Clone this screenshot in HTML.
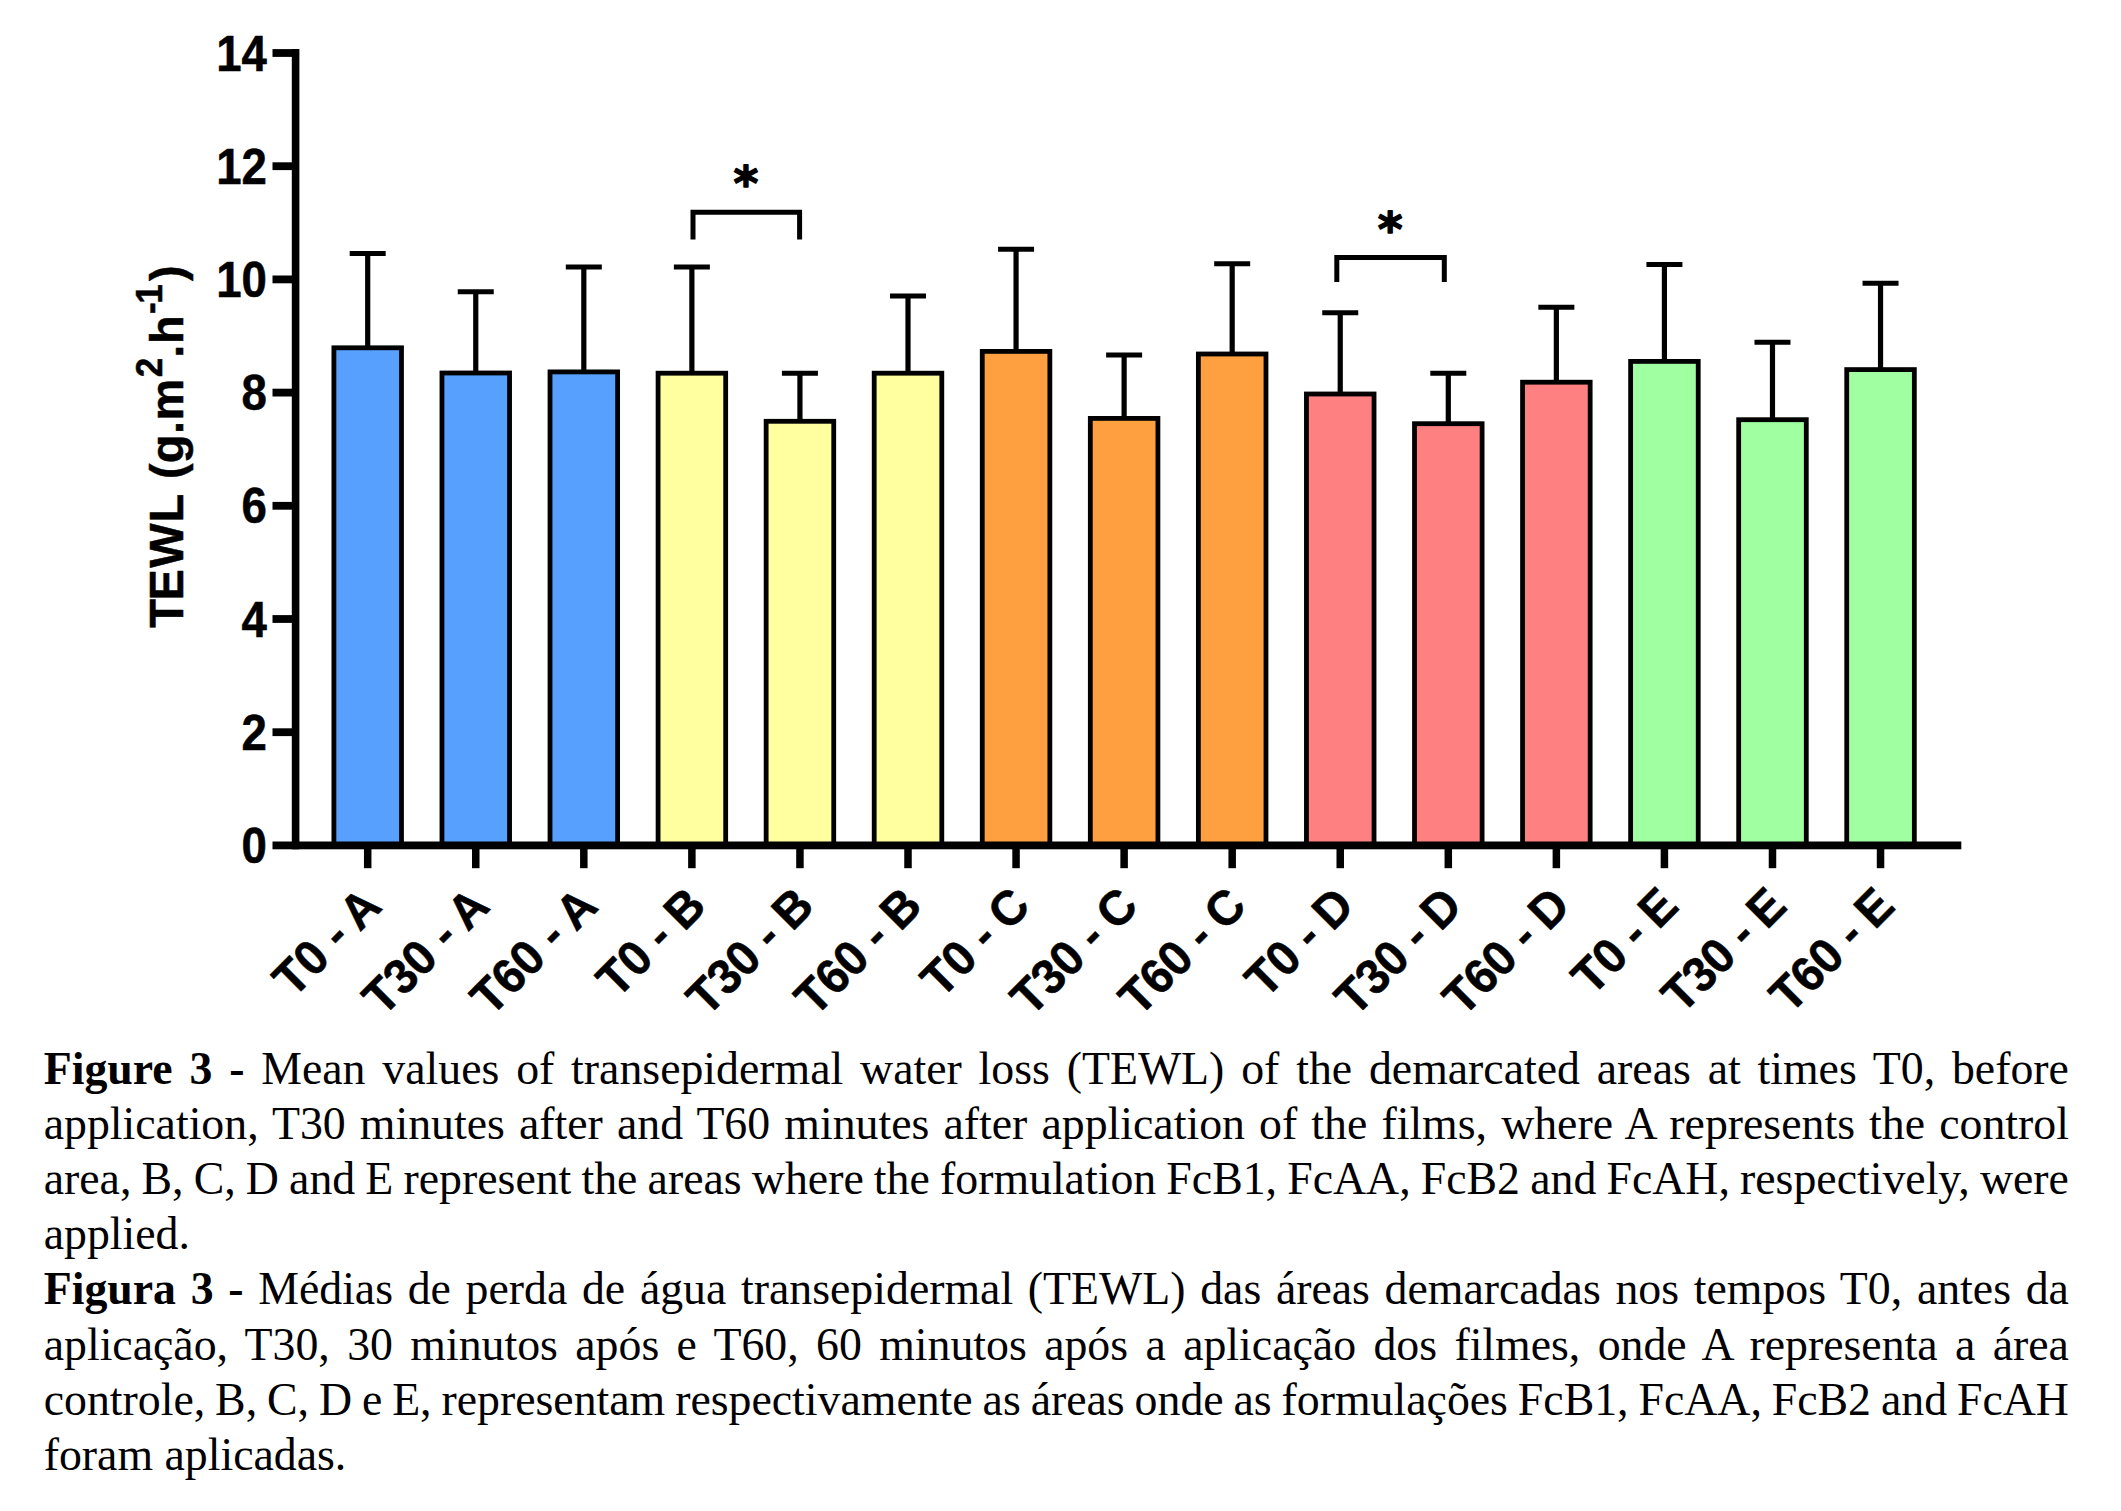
<!DOCTYPE html>
<html lang="en"><head><meta charset="utf-8"><title>Figure 3 - TEWL</title>
<style>
html,body{margin:0;padding:0;background:#fff;}
body{width:2121px;height:1511px;position:relative;overflow:hidden;}
.cap{position:absolute;left:43.7px;top:1040.8px;width:2030px;font-family:"Liberation Serif","Times New Roman",serif;font-size:45.8px;font-kerning:auto;color:#000;line-height:55.18px;}
.ln{height:55.18px;white-space:nowrap;}
svg text{stroke:#000;stroke-width:0.5px;stroke-linejoin:round;}
svg text.ast{stroke-width:1.4px;}
</style></head><body>
<svg width="2121" height="1040" viewBox="0 0 2121 1040" style="position:absolute;left:0;top:0">
<g font-family="'Liberation Sans', Arial, sans-serif" font-weight="bold" font-size="47" fill="#000">
<line x1="367.70" x2="367.70" y1="253.40" y2="347.80" stroke="#000" stroke-width="5.2"/>
<line x1="349.70" x2="385.70" y1="253.40" y2="253.40" stroke="#000" stroke-width="5"/>
<rect x="333.90" y="347.80" width="67.60" height="497.60" fill="#58a0fd" stroke="#000" stroke-width="4.8"/>
<line x1="475.76" x2="475.76" y1="291.70" y2="373.00" stroke="#000" stroke-width="5.2"/>
<line x1="457.76" x2="493.76" y1="291.70" y2="291.70" stroke="#000" stroke-width="5"/>
<rect x="441.96" y="373.00" width="67.60" height="472.40" fill="#58a0fd" stroke="#000" stroke-width="4.8"/>
<line x1="583.82" x2="583.82" y1="267.10" y2="371.90" stroke="#000" stroke-width="5.2"/>
<line x1="565.82" x2="601.82" y1="267.10" y2="267.10" stroke="#000" stroke-width="5"/>
<rect x="550.02" y="371.90" width="67.60" height="473.50" fill="#58a0fd" stroke="#000" stroke-width="4.8"/>
<line x1="691.88" x2="691.88" y1="267.00" y2="373.20" stroke="#000" stroke-width="5.2"/>
<line x1="673.88" x2="709.88" y1="267.00" y2="267.00" stroke="#000" stroke-width="5"/>
<rect x="658.08" y="373.20" width="67.60" height="472.20" fill="#ffffa0" stroke="#000" stroke-width="4.8"/>
<line x1="799.94" x2="799.94" y1="373.20" y2="421.30" stroke="#000" stroke-width="5.2"/>
<line x1="781.94" x2="817.94" y1="373.20" y2="373.20" stroke="#000" stroke-width="5"/>
<rect x="766.14" y="421.30" width="67.60" height="424.10" fill="#ffffa0" stroke="#000" stroke-width="4.8"/>
<line x1="908.00" x2="908.00" y1="295.90" y2="373.20" stroke="#000" stroke-width="5.2"/>
<line x1="890.00" x2="926.00" y1="295.90" y2="295.90" stroke="#000" stroke-width="5"/>
<rect x="874.20" y="373.20" width="67.60" height="472.20" fill="#ffffa0" stroke="#000" stroke-width="4.8"/>
<line x1="1016.06" x2="1016.06" y1="249.20" y2="351.40" stroke="#000" stroke-width="5.2"/>
<line x1="998.06" x2="1034.06" y1="249.20" y2="249.20" stroke="#000" stroke-width="5"/>
<rect x="982.26" y="351.40" width="67.60" height="494.00" fill="#ffa040" stroke="#000" stroke-width="4.8"/>
<line x1="1124.12" x2="1124.12" y1="355.00" y2="418.40" stroke="#000" stroke-width="5.2"/>
<line x1="1106.12" x2="1142.12" y1="355.00" y2="355.00" stroke="#000" stroke-width="5"/>
<rect x="1090.32" y="418.40" width="67.60" height="427.00" fill="#ffa040" stroke="#000" stroke-width="4.8"/>
<line x1="1232.18" x2="1232.18" y1="263.70" y2="354.00" stroke="#000" stroke-width="5.2"/>
<line x1="1214.18" x2="1250.18" y1="263.70" y2="263.70" stroke="#000" stroke-width="5"/>
<rect x="1198.38" y="354.00" width="67.60" height="491.40" fill="#ffa040" stroke="#000" stroke-width="4.8"/>
<line x1="1340.24" x2="1340.24" y1="312.70" y2="394.00" stroke="#000" stroke-width="5.2"/>
<line x1="1322.24" x2="1358.24" y1="312.70" y2="312.70" stroke="#000" stroke-width="5"/>
<rect x="1306.44" y="394.00" width="67.60" height="451.40" fill="#ff8080" stroke="#000" stroke-width="4.8"/>
<line x1="1448.30" x2="1448.30" y1="373.30" y2="423.70" stroke="#000" stroke-width="5.2"/>
<line x1="1430.30" x2="1466.30" y1="373.30" y2="373.30" stroke="#000" stroke-width="5"/>
<rect x="1414.50" y="423.70" width="67.60" height="421.70" fill="#ff8080" stroke="#000" stroke-width="4.8"/>
<line x1="1556.36" x2="1556.36" y1="307.20" y2="382.20" stroke="#000" stroke-width="5.2"/>
<line x1="1538.36" x2="1574.36" y1="307.20" y2="307.20" stroke="#000" stroke-width="5"/>
<rect x="1522.56" y="382.20" width="67.60" height="463.20" fill="#ff8080" stroke="#000" stroke-width="4.8"/>
<line x1="1664.42" x2="1664.42" y1="264.60" y2="361.40" stroke="#000" stroke-width="5.2"/>
<line x1="1646.42" x2="1682.42" y1="264.60" y2="264.60" stroke="#000" stroke-width="5"/>
<rect x="1630.62" y="361.40" width="67.60" height="484.00" fill="#a0ffa0" stroke="#000" stroke-width="4.8"/>
<line x1="1772.48" x2="1772.48" y1="342.30" y2="419.70" stroke="#000" stroke-width="5.2"/>
<line x1="1754.48" x2="1790.48" y1="342.30" y2="342.30" stroke="#000" stroke-width="5"/>
<rect x="1738.68" y="419.70" width="67.60" height="425.70" fill="#a0ffa0" stroke="#000" stroke-width="4.8"/>
<line x1="1880.54" x2="1880.54" y1="283.30" y2="369.60" stroke="#000" stroke-width="5.2"/>
<line x1="1862.54" x2="1898.54" y1="283.30" y2="283.30" stroke="#000" stroke-width="5"/>
<rect x="1846.74" y="369.60" width="67.60" height="475.80" fill="#a0ffa0" stroke="#000" stroke-width="4.8"/>
<rect x="291.8" y="49" width="7.6" height="800.3" fill="#000"/>
<rect x="272.5" y="841.5" width="1688.8" height="7.8" fill="#000"/>
<rect x="272.5" y="728.30" width="20" height="7.8" fill="#000"/>
<rect x="272.5" y="615.10" width="20" height="7.8" fill="#000"/>
<rect x="272.5" y="501.90" width="20" height="7.8" fill="#000"/>
<rect x="272.5" y="388.70" width="20" height="7.8" fill="#000"/>
<rect x="272.5" y="275.50" width="20" height="7.8" fill="#000"/>
<rect x="272.5" y="162.30" width="20" height="7.8" fill="#000"/>
<rect x="272.5" y="49.10" width="20" height="7.8" fill="#000"/>
<text text-anchor="end" transform="translate(266.9,862.90) scale(0.97,1.07)">0</text>
<text text-anchor="end" transform="translate(266.9,749.70) scale(0.97,1.07)">2</text>
<text text-anchor="end" transform="translate(266.9,636.50) scale(0.97,1.07)">4</text>
<text text-anchor="end" transform="translate(266.9,523.30) scale(0.97,1.07)">6</text>
<text text-anchor="end" transform="translate(266.9,410.10) scale(0.97,1.07)">8</text>
<text text-anchor="end" transform="translate(266.9,296.90) scale(0.97,1.07)">10</text>
<text text-anchor="end" transform="translate(266.9,183.70) scale(0.97,1.07)">12</text>
<text text-anchor="end" transform="translate(266.9,70.50) scale(0.97,1.07)">14</text>
<rect x="363.95" y="848" width="7.5" height="20.2" fill="#000"/>
<text text-anchor="end" letter-spacing="-0.15" transform="translate(383.70,908.60) rotate(-45) scale(1,1.04)">T0 - A</text>
<rect x="472.01" y="848" width="7.5" height="20.2" fill="#000"/>
<text text-anchor="end" letter-spacing="-0.15" transform="translate(491.76,908.60) rotate(-45) scale(1,1.04)">T30 - A</text>
<rect x="580.07" y="848" width="7.5" height="20.2" fill="#000"/>
<text text-anchor="end" letter-spacing="-0.15" transform="translate(599.82,908.60) rotate(-45) scale(1,1.04)">T60 - A</text>
<rect x="688.13" y="848" width="7.5" height="20.2" fill="#000"/>
<text text-anchor="end" letter-spacing="-0.35" transform="translate(707.88,908.60) rotate(-45) scale(1,1.04)">T0 - B</text>
<rect x="796.19" y="848" width="7.5" height="20.2" fill="#000"/>
<text text-anchor="end" letter-spacing="-0.35" transform="translate(815.94,908.60) rotate(-45) scale(1,1.04)">T30 - B</text>
<rect x="904.25" y="848" width="7.5" height="20.2" fill="#000"/>
<text text-anchor="end" letter-spacing="-0.35" transform="translate(924.00,908.60) rotate(-45) scale(1,1.04)">T60 - B</text>
<rect x="1012.31" y="848" width="7.5" height="20.2" fill="#000"/>
<text text-anchor="end" letter-spacing="-0.35" transform="translate(1032.06,908.60) rotate(-45) scale(1,1.04)">T0 - C</text>
<rect x="1120.37" y="848" width="7.5" height="20.2" fill="#000"/>
<text text-anchor="end" letter-spacing="-0.35" transform="translate(1140.12,908.60) rotate(-45) scale(1,1.04)">T30 - C</text>
<rect x="1228.43" y="848" width="7.5" height="20.2" fill="#000"/>
<text text-anchor="end" letter-spacing="-0.35" transform="translate(1248.18,908.60) rotate(-45) scale(1,1.04)">T60 - C</text>
<rect x="1336.49" y="848" width="7.5" height="20.2" fill="#000"/>
<text text-anchor="end" letter-spacing="-0.35" transform="translate(1356.24,908.60) rotate(-45) scale(1,1.04)">T0 - D</text>
<rect x="1444.55" y="848" width="7.5" height="20.2" fill="#000"/>
<text text-anchor="end" letter-spacing="-0.35" transform="translate(1464.30,908.60) rotate(-45) scale(1,1.04)">T30 - D</text>
<rect x="1552.61" y="848" width="7.5" height="20.2" fill="#000"/>
<text text-anchor="end" letter-spacing="-0.35" transform="translate(1572.36,908.60) rotate(-45) scale(1,1.04)">T60 - D</text>
<rect x="1660.67" y="848" width="7.5" height="20.2" fill="#000"/>
<text text-anchor="end" letter-spacing="-0.5" transform="translate(1680.42,908.60) rotate(-45) scale(1,1.04)">T0 - E</text>
<rect x="1768.73" y="848" width="7.5" height="20.2" fill="#000"/>
<text text-anchor="end" letter-spacing="-0.5" transform="translate(1788.48,908.60) rotate(-45) scale(1,1.04)">T30 - E</text>
<rect x="1876.79" y="848" width="7.5" height="20.2" fill="#000"/>
<text text-anchor="end" letter-spacing="-0.5" transform="translate(1896.54,908.60) rotate(-45) scale(1,1.04)">T60 - E</text>
<path d="M693.00 239.60 V212.20 H799.60 V239.60" fill="none" stroke="#000" stroke-width="5"/>
<text x="745.90" y="200.20" text-anchor="middle" font-family="'DejaVu Sans', sans-serif" font-size="47.5" class="ast">*</text>
<path d="M1336.80 282.00 V257.60 H1444.30 V282.00" fill="none" stroke="#000" stroke-width="5"/>
<text x="1390.20" y="245.60" text-anchor="middle" font-family="'DejaVu Sans', sans-serif" font-size="47.5" class="ast">*</text>
<g transform="translate(183.0,627.8) rotate(-90)">
<text x="0 27.3 60.05 105.4" transform="scale(1,1.04)">TEWL</text>
<text x="148.7 164.5 193.7 207.4" transform="scale(1,1)">(g.m</text>
<text x="250.6" transform="translate(0,-21) scale(1,1.04)" font-size="35">2</text>
<text x="270.1 283.9" transform="scale(1,1)">.h</text>
<text x="313.8 324" transform="translate(0,-21) scale(1,1.04)" font-size="35">-1</text>
<text x="346.8" transform="scale(1,1)">)</text>
</g>
</g></svg>
<div class="cap">
<div class="ln" style="word-spacing:5.379px"><b>Figure 3 -</b> Mean values of transepidermal water loss (TEWL) of the demarcated areas at times T0, before</div>
<div class="ln" style="word-spacing:2.682px">application, T30 minutes after and T60 minutes after application of the films, where A represents the control</div>
<div class="ln" style="word-spacing:-1.286px">area, B, C, D and E represent the areas where the formulation FcB1, FcAA, FcB2 and FcAH, respectively, were</div>
<div class="ln">applied.</div>
<div class="ln" style="word-spacing:3.233px"><b>Figura 3 -</b> Médias de perda de água transepidermal (TEWL) das áreas demarcadas nos tempos T0, antes da</div>
<div class="ln" style="word-spacing:5.917px">aplicação, T30, 30 minutos após e T60, 60 minutos após a aplicação dos filmes, onde A representa a área</div>
<div class="ln" style="word-spacing:-1.539px">controle, B, C, D e E, representam respectivamente as áreas onde as formulações FcB1, FcAA, FcB2 and FcAH</div>
<div class="ln">foram aplicadas.</div>
</div>
</body></html>
